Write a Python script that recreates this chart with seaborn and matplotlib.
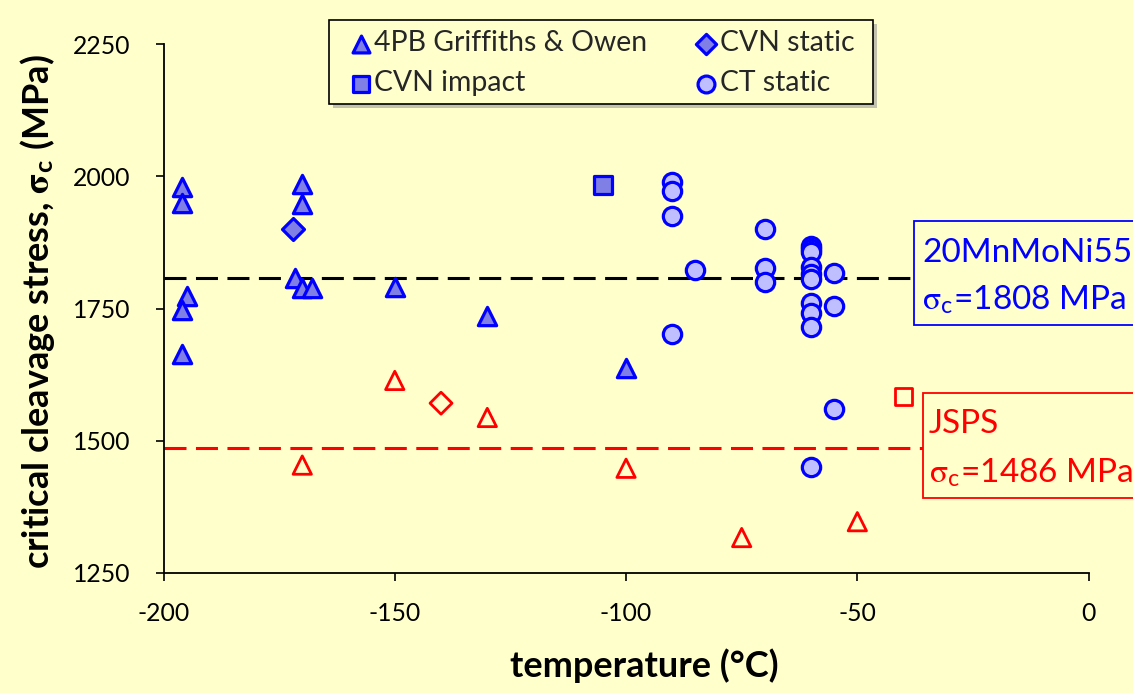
import matplotlib
matplotlib.use("Agg")
import matplotlib.pyplot as plt
from matplotlib.patches import Rectangle
import seaborn as sns

# ---- critical cleavage stress (MPa) versus temperature (°C) ----
# 20MnMoNi55, 4-point bend (Griffiths & Owen)
t_4pb = [-196, -196, -195, -196, -196, -170, -170, -171.5, -170, -168, -150, -130, -100]
s_4pb = [1980, 1950, 1773, 1748, 1664, 1986, 1947, 1808, 1789, 1789, 1790, 1736, 1637]
# 20MnMoNi55, CVN impact
t_cvn_imp = [-105]
s_cvn_imp = [1984]
# 20MnMoNi55, CVN static
t_cvn_sta = [-172]
s_cvn_sta = [1900]
# 20MnMoNi55, CT static
t_ct = [-90, -90, -90, -90, -85, -70, -70, -70,
        -60, -60, -60, -60, -60, -60, -60, -60, -60, -60,
        -55, -55, -55]
s_ct = [1989, 1972, 1925, 1701, 1823, 1901, 1827, 1801,
        1868, 1862, 1856, 1828, 1815, 1806, 1761, 1742, 1715, 1451,
        1818, 1755, 1560]
# JSPS steel
t_jsps_4pb = [-170, -150, -130, -100, -75, -50]
s_jsps_4pb = [1454, 1614, 1544, 1448, 1317, 1347]
t_jsps_cvn_sta = [-140]
s_jsps_cvn_sta = [1571]
t_jsps_cvn_imp = [-40]
s_jsps_cvn_imp = [1583]

# mean cleavage stresses
sigma_mn = 1808
sigma_jsps = 1486

legend_labels = ["4PB Griffiths & Owen", "CVN impact", "CVN static", "CT static"]
x_ticks = [-200, -150, -100, -50, 0]
y_ticks = [1250, 1500, 1750, 2000, 2250]

# ---- style ----
BG = "#FFFFCC"
BLUE = "#0000FF"
RED = "#FF0000"
FILL_DARK = "#7F7FE6"
FILL_LIGHT = "#BFBFFF"

sns.set_theme(style="ticks")
plt.rcParams["font.family"] = ["Lato", "DejaVu Sans"]
plt.rcParams["mathtext.fontset"] = "stix"
plt.rcParams["axes.unicode_minus"] = False

W, H = 1133, 693
fig = plt.figure(figsize=(W / 100, H / 100), dpi=100, facecolor=BG)


def fx(px):
    return px / W


def fy(py):
    return (H - py) / H


ax = fig.add_axes([fx(163.5), fy(573), fx(1088.6) - fx(163.5), fy(44) - fy(573)])
ax.set_facecolor(BG)

# mean-stress reference lines
dash = (0, (7.2, 3.1))
ax.axhline(sigma_mn, color="black", lw=2.2, ls=dash, zorder=1, dash_capstyle="butt")
ax.axhline(sigma_jsps, color=RED, lw=2.2, ls=dash, zorder=1, dash_capstyle="butt")

ms = 13.2
handles = {}


def blue(x, y, marker, size, fill, key):
    sns.scatterplot(x=x, y=y, marker=marker, s=size ** 2, color=fill,
                    edgecolor=BLUE, linewidth=2.3, ax=ax, zorder=3)
    handles[key] = ax.collections[-1]


def red(x, y, marker, size):
    sns.scatterplot(x=x, y=y, marker=marker, s=size ** 2, facecolor="none",
                    edgecolor=RED, linewidth=2.0, ax=ax, zorder=3)


red(t_jsps_4pb, s_jsps_4pb, "^", ms)
red(t_jsps_cvn_sta, s_jsps_cvn_sta, "D", 11.2)
red(t_jsps_cvn_imp, s_jsps_cvn_imp, "s", 12.4)

blue(t_4pb, s_4pb, "^", ms, FILL_DARK, "4PB Griffiths & Owen")
blue(t_cvn_sta, s_cvn_sta, "D", 11.2, FILL_DARK, "CVN static")
blue(t_cvn_imp, s_cvn_imp, "s", 12.4, FILL_DARK, "CVN impact")
blue(t_ct, s_ct, "o", ms, FILL_LIGHT, "CT static")

ax.set_xlim(-200, 0)
ax.set_ylim(1250, 2250)
ax.set_xticks(x_ticks)
ax.set_yticks(y_ticks)
ax.set_xticklabels([str(v) for v in x_ticks])
ax.set_yticklabels([str(v) for v in y_ticks])
sns.despine(ax=ax)
for side in ("left", "bottom"):
    ax.spines[side].set_color("black")
    ax.spines[side].set_linewidth(1.3)
ax.tick_params(axis="both", direction="out", length=5.8, width=1.2,
               color="black", labelsize=17.8, labelcolor="black")
ax.tick_params(axis="x", pad=15)
ax.tick_params(axis="y", pad=18)

ax.set_xlabel("temperature (°C)", fontsize=26, fontweight="bold", color="black")
ax.xaxis.set_label_coords(fx(644.5), fy(677), transform=fig.transFigure)
ax.xaxis.label.set_va("baseline")
ax.set_ylabel(r"critical cleavage stress, $\mathbf{\sigma}_\mathregular{c}$ (MPa)",
              fontsize=26, fontweight="bold", color="black")
ax.yaxis.set_label_coords(fx(38), fy(312), transform=fig.transFigure)
ax.yaxis.label.set_va("center")

# legend frame with a drop shadow
fig.add_artist(Rectangle((fx(333), fy(108)), fx(873) - fx(329), fy(20) - fy(104),
                         transform=fig.transFigure, facecolor="#A8A8A0",
                         edgecolor="none", zorder=1, alpha=0.7))
fig.add_artist(Rectangle((fx(329), fy(104)), fx(873) - fx(329), fy(20) - fy(104),
                         transform=fig.transFigure, facecolor=BG,
                         edgecolor="black", linewidth=1.2, zorder=1.1))
leg = ax.legend([handles[k] for k in legend_labels], legend_labels, ncol=2,
                loc="upper left", bbox_to_anchor=(fx(350), fy(30)),
                bbox_transform=fig.transFigure, frameon=False, fontsize=20.4,
                borderpad=0, borderaxespad=0, handlelength=0.75,
                handletextpad=0.1, columnspacing=1.71, labelspacing=0.5,
                scatterpoints=1, markerscale=0.92)
leg.remove()
fig.add_artist(leg)
leg.set_zorder(5)

# annotation boxes for the mean cleavage stresses
fig.add_artist(Rectangle((fx(914), fy(325)), fx(1160) - fx(914), fy(221) - fy(325),
                         transform=fig.transFigure, facecolor=BG,
                         edgecolor=BLUE, linewidth=1.3, zorder=2))
fig.text(fx(922), fy(261.7), "20MnMoNi55", color=BLUE, fontsize=24,
         va="baseline", ha="left", zorder=3)
fig.text(fx(922), fy(310), r"$\mathrm{\sigma}_\mathregular{c}$=%d MPa" % sigma_mn,
         color=BLUE, fontsize=24, va="baseline", ha="left", zorder=3)

fig.add_artist(Rectangle((fx(923), fy(498)), fx(1160) - fx(923), fy(393) - fy(498),
                         transform=fig.transFigure, facecolor=BG,
                         edgecolor=RED, linewidth=1.3, zorder=2))
fig.text(fx(929), fy(433.3), "JSPS", color=RED, fontsize=24,
         va="baseline", ha="left", zorder=3)
fig.text(fx(929), fy(482.5), r"$\mathrm{\sigma}_\mathregular{c}$=%d MPa" % sigma_jsps,
         color=RED, fontsize=24, va="baseline", ha="left", zorder=3)

fig.savefig("out.png", dpi=100, facecolor=BG)
